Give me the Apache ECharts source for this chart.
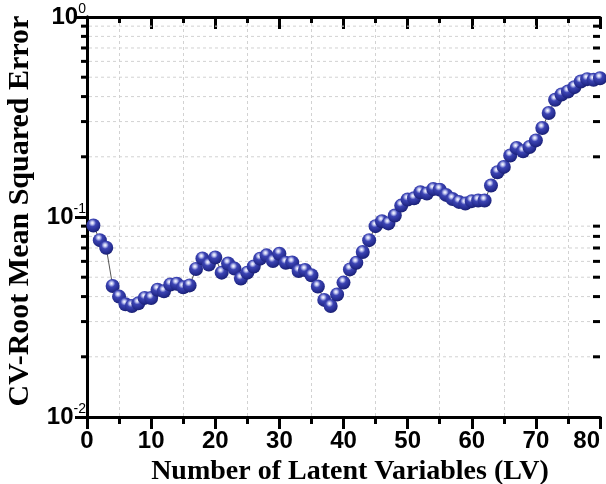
<!DOCTYPE html>
<html>
<head>
<meta charset="utf-8">
<script src="https://cdn.jsdelivr.net/npm/echarts@6/dist/echarts.min.js"></script>
<style>
  html, body { margin: 0; padding: 0; background: #fff; }
  #main { width: 606px; height: 484px; }
</style>
</head>
<body>
<div id="main"></div>
<script>
// number of latent variables
let lv = [];
for (let i = 1; i <= 80; i++) lv.push(i);

// CV-RMSE
let rmse = [
    0.0907, 0.0766, 0.0702, 0.0452, 0.0400, 0.0366, 0.0359, 0.0370, 0.0394, 0.0393,
    0.0433, 0.0425, 0.0460, 0.0464, 0.0445, 0.0455, 0.0550, 0.0621, 0.0578, 0.0628,
    0.0527, 0.0585, 0.0552, 0.0492, 0.0527, 0.0566, 0.0619, 0.0643, 0.0602, 0.0655,
    0.0591, 0.0593, 0.0537, 0.0543, 0.0511, 0.0449, 0.0385, 0.0359, 0.0410, 0.0470,
    0.0547, 0.0591, 0.0668, 0.0766, 0.0900, 0.0953, 0.0929, 0.1017, 0.1140, 0.1223,
    0.1240, 0.1330, 0.1310, 0.1380, 0.1370, 0.1290, 0.1230, 0.1190, 0.1167, 0.1200,
    0.1209, 0.1209, 0.1436, 0.1674, 0.1780, 0.2030, 0.2215, 0.2130, 0.2240, 0.2415,
    0.2786, 0.3310, 0.3855, 0.4100, 0.4240, 0.4460, 0.4760, 0.4890, 0.4850, 0.4940
];

// minor ticks of the log axis (2..9 x 10^n)
let yMinorTicks = [0.02, 0.03, 0.04, 0.05, 0.06, 0.07, 0.08, 0.09,
                   0.2, 0.3, 0.4, 0.5, 0.6, 0.7, 0.8, 0.9];

let points = lv.map((x, i) => [x, rmse[i]]);

let gridDash = { color: '#d2d2d2', type: [3, 3], width: 1 };
let axisBlack = { lineStyle: { color: '#000', width: 3 } };

let option = {
    backgroundColor: '#fff',
    animation: false,
    grid: { left: 87, right: 6, top: 17, bottom: 67, containLabel: false, outerBoundsMode: 'none' },
    xAxis: [{
        type: 'value',
        min: 0, max: 80, interval: 10,
        position: 'bottom',
        axisLine: axisBlack,
        axisTick: { show: true, length: 12, lineStyle: { color: '#000', width: 3 } },
        minorTick: { show: true, splitNumber: 2, length: 7, lineStyle: { color: '#000', width: 3 } },
        splitLine: { show: false },
        minorSplitLine: { show: true, lineStyle: gridDash },
        axisLabel: {
            margin: 12,
            color: '#000',
            fontFamily: 'Liberation Sans',
            fontWeight: 'bold',
            fontSize: 24,
            alignMaxLabel: 'right'
        },
        name: 'Number of Latent Variables (LV)',
        nameLocation: 'middle',
        nameGap: 34,
        nameTextStyle: {
            color: '#000',
            fontFamily: 'Liberation Serif',
            fontWeight: 'bold',
            fontSize: 28,
            padding: [0, 0, 0, 13]
        }
    }, {
        type: 'value',
        min: 0, max: 80, interval: 10,
        position: 'top',
        axisLine: axisBlack,
        axisTick: { show: true, inside: true, length: 12, lineStyle: { color: '#000', width: 3 } },
        minorTick: { show: true, splitNumber: 2, length: 6, lineStyle: { color: '#000', width: 3 } },
        splitLine: { show: false },
        axisLabel: { show: false }
    }],
    yAxis: [{
        type: 'log',
        logBase: 10,
        min: 0.01, max: 1,
        position: 'left',
        axisLine: axisBlack,
        axisTick: { show: true, length: 9, lineStyle: { color: '#000', width: 3 } },
        splitLine: { show: false },
        axisLabel: {
            margin: 1,
            color: '#000',
            formatter: function (v) {
                let e = Math.round(Math.log10(v));
                return '{b|10}{s|' + e + '}';
            },
            rich: {
                b: { fontFamily: 'Liberation Sans', fontWeight: 'bold', fontSize: 24, color: '#000' },
                s: { fontFamily: 'Liberation Sans', fontSize: 14, color: '#000', padding: [0, 0, 15, 0] }
            }
        },
        name: 'CV-Root Mean Squared Error',
        nameLocation: 'middle',
        nameGap: 52,
        nameTextStyle: {
            color: '#000',
            fontFamily: 'Liberation Serif',
            fontWeight: 'bold',
            fontSize: 30,
            padding: [0, 0, 0, 12]
        }
    }, {
        type: 'log',
        logBase: 10,
        min: 0.01, max: 1,
        position: 'right',
        axisLine: axisBlack,
        axisTick: { show: true, inside: true, length: 12, lineStyle: { color: '#000', width: 3 } },
        splitLine: { show: false },
        axisLabel: { show: false }
    }],
    series: [{
        // minor grid lines and minor ticks of the log axes
        type: 'custom',
        xAxisIndex: 0,
        yAxisIndex: 0,
        z: 1,
        silent: true,
        clip: false,
        data: yMinorTicks.map(v => [0, v]),
        renderItem: function (params, api) {
            let y = api.coord([0, api.value(1)])[1];
            let cs = params.coordSys;
            let l = cs.x, r = cs.x + cs.width;
            return {
                type: 'group',
                children: [{
                    type: 'line',
                    shape: { x1: l + 2, y1: y, x2: r - 2, y2: y },
                    style: { stroke: '#d2d2d2', lineWidth: 1, lineDash: [3, 3] }
                }, {
                    type: 'line',
                    shape: { x1: l - 6, y1: y, x2: l, y2: y },
                    style: { stroke: '#000', lineWidth: 3 }
                }, {
                    type: 'line',
                    shape: { x1: r - 7, y1: y, x2: r, y2: y },
                    style: { stroke: '#000', lineWidth: 3 }
                }]
            };
        }
    }, {
        type: 'line',
        xAxisIndex: 0,
        yAxisIndex: 0,
        z: 3,
        data: points,
        symbol: 'circle',
        symbolSize: 14,
        showAllSymbol: true,
        lineStyle: { color: '#555', width: 1 },
        itemStyle: {
            color: {
                type: 'radial', x: 0.42, y: 0.32, r: 0.75,
                colorStops: [
                    { offset: 0, color: '#ffffff' },
                    { offset: 0.14, color: '#c4c9f2' },
                    { offset: 0.35, color: '#3c44b4' },
                    { offset: 0.75, color: '#232a8c' },
                    { offset: 1, color: '#12175e' }
                ]
            },
            borderWidth: 0
        }
    }]
};

let chart = echarts.init(document.getElementById('main'));
chart.setOption(option);
</script>
</body>
</html>
